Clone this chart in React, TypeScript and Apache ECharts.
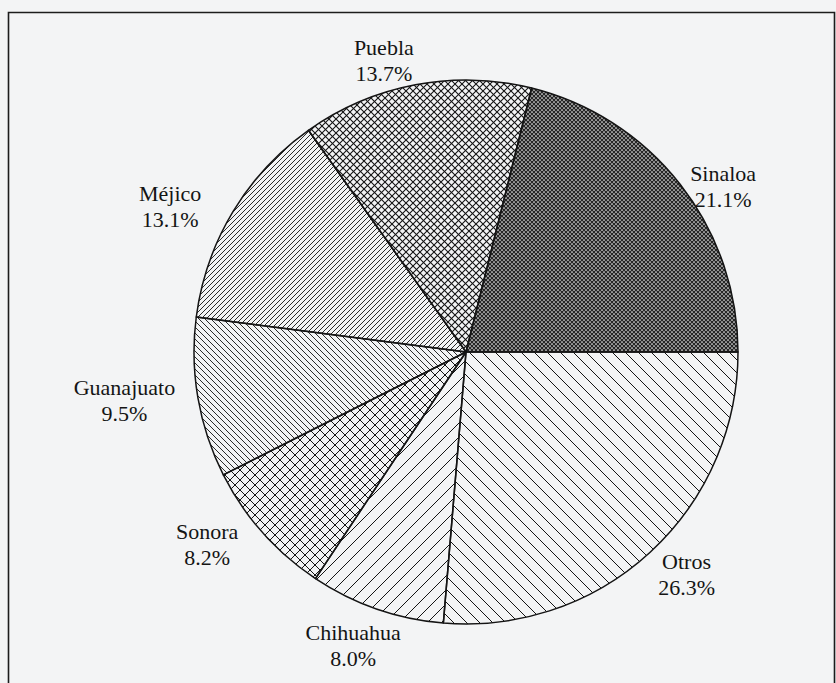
import React, { useEffect, useRef } from 'react';
import * as echarts from 'echarts';

// ---- data ----
const categories = ['Sinaloa', 'Puebla', 'Méjico', 'Guanajuato', 'Sonora', 'Chihuahua', 'Otros'];
const shares = [21.1, 13.7, 13.1, 9.5, 8.2, 8.0, 26.3];

// ---- label placement tuning (layout only) ----
const labelLength = [-4, 25, 10, 15, 18, 39, 31];
const labelLength2 = [8, -8, 18, 3, 6, -42, -18];

const INK = '#141414';

function svgUrl(w: number, h: number, body: string) {
  const svg = `<svg xmlns="http://www.w3.org/2000/svg" width="${w}" height="${h}">${body}</svg>`;
  return 'data:image/svg+xml;charset=utf-8,' + encodeURIComponent(svg);
}
function fwd(p: number, sw: number) {
  return `<path d="M0,${p} L${p},0 M${-p / 2},${p / 2} L${p / 2},${-p / 2} M${p / 2},${1.5 * p} L${1.5 * p},${p / 2}" stroke="${INK}" stroke-width="${sw}" fill="none"/>`;
}
function bwd(p: number, sw: number) {
  return `<path d="M0,0 L${p},${p} M${-p / 2},${p / 2} L${p / 2},${1.5 * p} M${p / 2},${-p / 2} L${1.5 * p},${p / 2}" stroke="${INK}" stroke-width="${sw}" fill="none"/>`;
}
function pattern(p: number, body: string) {
  return { image: svgUrl(p, p, body), repeat: 'repeat', imageWidth: p, imageHeight: p };
}

const dotted =
  `<rect width="4" height="4" fill="#262626"/>` +
  [[0, 0], [4, 0], [0, 4], [4, 4], [2, 2]]
    .map(([x, y]) => `<circle cx="${x}" cy="${y}" r="0.85" fill="#f2f2f2"/>`)
    .join('');

const patterns = [
  pattern(4, dotted), // Sinaloa
  pattern(7, fwd(7, 1.1) + bwd(7, 1.1)), // Puebla
  pattern(5, fwd(5, 0.9)), // Méjico
  pattern(6, bwd(6, 0.9)), // Guanajuato
  pattern(10, fwd(10, 1.0) + bwd(10, 1.0)), // Sonora
  pattern(14, fwd(14, 1.0)), // Chihuahua
  pattern(13, bwd(13, 1.0)), // Otros
];

export default function App() {
  const ref = useRef<HTMLDivElement>(null);
  useEffect(() => {
    const chart = echarts.init(ref.current as HTMLDivElement, null, { renderer: 'svg' });
    const data = categories.map((name, i) => ({
      name,
      value: shares[i],
      itemStyle: { color: patterns[i] as any },
      labelLine: { show: false, length: labelLength[i], length2: labelLength2[i] },
    }));
    chart.setOption({
      animation: false,
      backgroundColor: '#f3f4f5',
      graphic: [
        {
          type: 'rect',
          silent: true,
          z: -1,
          shape: { x: 8.5, y: 12.5, width: 826, height: 700 },
          style: { fill: 'none', stroke: '#1c1c1c', lineWidth: 1.6 },
        },
      ],
      series: [
        {
          type: 'pie',
          center: [466, 352],
          radius: 272,
          startAngle: 0,
          clockwise: false,
          avoidLabelOverlap: false,
          emphasis: { disabled: true },
          itemStyle: { borderColor: INK, borderWidth: 1.5 },
          label: {
            show: true,
            position: 'outside',
            color: INK,
            formatter: (p: any) => `{a|${p.name}}\n{a|${Number(p.value).toFixed(1)}%}`,
            rich: {
              a: {
                align: 'center',
                color: INK,
                fontSize: 22,
                lineHeight: 26,
                fontFamily: '"Liberation Serif", "Times New Roman", serif',
              },
            },
          },
          labelLine: { show: false },
          data,
        },
      ],
    });
    return () => chart.dispose();
  }, []);
  return (
    <div
      ref={ref}
      style={{ position: 'fixed', left: 0, top: 0, width: 836, height: 683 }}
    />
  );
}
